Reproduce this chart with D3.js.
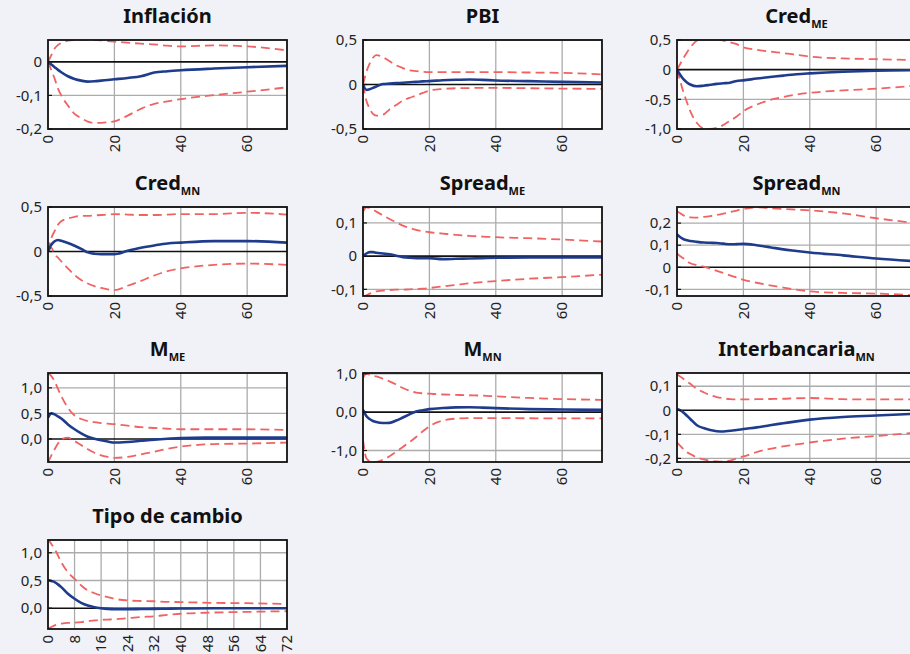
<!DOCTYPE html>
<html>
<head>
<meta charset="utf-8">
<script src="https://cdn.jsdelivr.net/npm/d3@7"></script>
<style>
  html, body { margin: 0; padding: 0; background: #f1f2f7; }
  svg { display: block; }
  text { font-family: "Noto Sans", "Open Sans", sans-serif; }
</style>
</head>
<body>
<svg id="chart" width="910" height="654"></svg>
<script>
// ---- data ----
const horizons = [0,1,2,3,4,6,8,10,12,14,16,18,20,24,28,32,36,40,50,60,72];

const inflacionIRF = [0,-0.008,-0.016,-0.024,-0.031,-0.043,-0.051,-0.056,-0.059,-0.058,-0.056,-0.054,-0.052,-0.048,-0.043,-0.032,-0.028,-0.025,-0.020,-0.016,-0.012];
const inflacionHi  = [0,0.02,0.04,0.05,0.056,0.063,0.065,0.066,0.066,0.065,0.064,0.062,0.06,0.057,0.054,0.052,0.048,0.046,0.049,0.046,0.034];
const inflacionLo  = [0,-0.025,-0.05,-0.08,-0.1,-0.13,-0.155,-0.168,-0.178,-0.182,-0.182,-0.18,-0.177,-0.16,-0.14,-0.125,-0.118,-0.111,-0.099,-0.089,-0.076];

const pbiIRF = [0,-0.06,-0.053,-0.038,-0.023,0.005,0.01,0.015,0.02,0.025,0.03,0.035,0.038,0.048,0.054,0.057,0.052,0.045,0.038,0.03,0.023];
const pbiHi  = [0,0.14,0.235,0.3,0.33,0.31,0.26,0.216,0.185,0.16,0.15,0.143,0.14,0.14,0.14,0.14,0.14,0.14,0.135,0.13,0.114];
const pbiLo  = [0,-0.18,-0.27,-0.33,-0.35,-0.34,-0.28,-0.23,-0.18,-0.15,-0.125,-0.095,-0.068,-0.05,-0.042,-0.04,-0.038,-0.038,-0.042,-0.046,-0.049];

const credMEIRF = [0,-0.09,-0.165,-0.215,-0.25,-0.28,-0.27,-0.255,-0.24,-0.23,-0.22,-0.19,-0.18,-0.15,-0.125,-0.1,-0.078,-0.063,-0.034,-0.017,-0.01];
const credMEHi  = [0,0.1,0.2,0.29,0.375,0.49,0.53,0.53,0.52,0.49,0.46,0.43,0.375,0.335,0.305,0.28,0.25,0.22,0.19,0.176,0.16];
const credMELo  = [0,-0.2,-0.39,-0.55,-0.7,-0.9,-0.99,-1.0,-0.98,-0.93,-0.86,-0.79,-0.7,-0.59,-0.51,-0.46,-0.42,-0.39,-0.35,-0.32,-0.27];

const credMNIRF = [0,0.075,0.115,0.13,0.12,0.095,0.065,0.03,-0.01,-0.025,-0.03,-0.03,-0.03,0.008,0.042,0.068,0.09,0.1,0.117,0.117,0.1];
const credMNHi  = [0,0.15,0.23,0.3,0.34,0.37,0.39,0.4,0.4,0.405,0.41,0.415,0.42,0.415,0.41,0.41,0.415,0.42,0.42,0.435,0.415];
const credMNLo  = [0,0.04,-0.03,-0.07,-0.11,-0.19,-0.265,-0.32,-0.36,-0.39,-0.41,-0.425,-0.435,-0.385,-0.33,-0.27,-0.22,-0.19,-0.15,-0.136,-0.15];

const spreadMEIRF = [0,0.008,0.012,0.012,0.01,0.008,0.006,0.001,-0.003,-0.005,-0.006,-0.006,-0.006,-0.009,-0.008,-0.007,-0.006,-0.005,-0.004,-0.004,-0.004];
const spreadMEHi  = [0.134,0.147,0.145,0.14,0.134,0.123,0.112,0.102,0.092,0.085,0.079,0.075,0.072,0.068,0.064,0.061,0.059,0.057,0.054,0.05,0.044];
const spreadMELo  = [-0.123,-0.118,-0.113,-0.109,-0.106,-0.104,-0.102,-0.101,-0.101,-0.1,-0.099,-0.098,-0.096,-0.091,-0.087,-0.082,-0.078,-0.075,-0.068,-0.063,-0.056];

const spreadMNIRF = [0.148,0.136,0.127,0.122,0.119,0.115,0.112,0.111,0.11,0.107,0.104,0.105,0.106,0.1,0.091,0.081,0.074,0.067,0.054,0.04,0.027];
const spreadMNHi  = [0.254,0.245,0.235,0.227,0.226,0.225,0.228,0.232,0.237,0.243,0.25,0.257,0.264,0.271,0.268,0.264,0.261,0.258,0.244,0.222,0.2];
const spreadMNLo  = [0.063,0.05,0.04,0.028,0.018,0.01,0.003,-0.006,-0.016,-0.026,-0.037,-0.047,-0.057,-0.07,-0.082,-0.092,-0.101,-0.109,-0.116,-0.119,-0.127];

const mMEIRF = [0.415,0.5,0.48,0.44,0.4,0.285,0.19,0.11,0.045,0.005,-0.026,-0.05,-0.07,-0.058,-0.035,-0.012,0.006,0.02,0.026,0.026,0.026];
const mMEHi  = [1.29,1.23,1.13,0.98,0.84,0.61,0.46,0.39,0.35,0.33,0.31,0.3,0.29,0.26,0.23,0.215,0.2,0.19,0.19,0.19,0.175];
const mMELo  = [-0.46,-0.32,-0.2,-0.09,-0.006,0.026,-0.04,-0.12,-0.2,-0.27,-0.32,-0.35,-0.37,-0.35,-0.3,-0.25,-0.19,-0.15,-0.1,-0.09,-0.07];

const mMNIRF = [0.06,-0.1,-0.18,-0.23,-0.26,-0.285,-0.28,-0.22,-0.14,-0.06,0.017,0.05,0.078,0.107,0.125,0.128,0.118,0.104,0.078,0.07,0.06];
const mMNHi  = [0.89,1.0,0.98,0.95,0.93,0.87,0.8,0.72,0.63,0.56,0.51,0.49,0.48,0.46,0.45,0.44,0.43,0.41,0.37,0.34,0.32];
const mMNLo  = [-0.72,-1.2,-1.28,-1.31,-1.3,-1.24,-1.15,-1.03,-0.91,-0.78,-0.65,-0.5,-0.37,-0.22,-0.17,-0.157,-0.157,-0.157,-0.16,-0.162,-0.165];

const interbIRF = [0.005,0.0,-0.01,-0.023,-0.036,-0.062,-0.074,-0.082,-0.087,-0.088,-0.085,-0.082,-0.078,-0.071,-0.062,-0.054,-0.046,-0.039,-0.028,-0.022,-0.014];
const interbHi  = [0.15,0.14,0.13,0.12,0.11,0.089,0.075,0.063,0.055,0.05,0.046,0.045,0.045,0.046,0.047,0.048,0.05,0.051,0.046,0.045,0.045];
const interbLo  = [-0.134,-0.148,-0.162,-0.174,-0.182,-0.196,-0.204,-0.209,-0.213,-0.214,-0.209,-0.2,-0.192,-0.174,-0.16,-0.15,-0.142,-0.134,-0.118,-0.107,-0.093];

const tcIRF = [0.51,0.49,0.47,0.43,0.38,0.26,0.17,0.096,0.048,0.018,0.0,-0.012,-0.018,-0.018,-0.015,-0.012,-0.009,-0.006,0,0,0];
const tcHi  = [1.25,1.16,1.07,0.95,0.83,0.65,0.53,0.41,0.32,0.27,0.23,0.2,0.17,0.14,0.13,0.125,0.115,0.11,0.096,0.09,0.078];
const tcLo  = [-0.37,-0.34,-0.31,-0.29,-0.28,-0.265,-0.26,-0.25,-0.235,-0.22,-0.21,-0.205,-0.2,-0.18,-0.16,-0.145,-0.12,-0.1,-0.078,-0.066,-0.054];

const titles    = ["Inflación","PBI","Cred","Cred","Spread","Spread","M","M","Interbancaria","Tipo de cambio"];
const subtitles = ["","","ME","MN","ME","MN","ME","MN","MN",""];

const yTicks = [
  [0,-0.1,-0.2],
  [0.5,0,-0.5],
  [0.5,0,-0.5,-1.0],
  [0.5,0,-0.5],
  [0.1,0,-0.1],
  [0.2,0.1,0,-0.1],
  [1.0,0.5,0.0],
  [1.0,0.0,-1.0],
  [0.1,0,-0.1,-0.2],
  [1.0,0.5,0.0]
];
const yTickLabels = [
  ["0","-0,1","-0,2"],
  ["0,5","0","-0,5"],
  ["0,5","0","-0,5","-1,0"],
  ["0,5","0","-0,5"],
  ["0,1","0","-0,1"],
  ["0,2","0,1","0","-0,1"],
  ["1,0","0,5","0,0"],
  ["1,0","0,0","-1,0"],
  ["0,1","0","-0,1","-0,2"],
  ["1,0","0,5","0,0"]
];
const xTicksStd  = [0,20,40,60];
const xTicksLast = [0,8,16,24,32,40,48,56,64,72];

const irfs  = [inflacionIRF,pbiIRF,credMEIRF,credMNIRF,spreadMEIRF,spreadMNIRF,mMEIRF,mMNIRF,interbIRF,tcIRF];
const highs = [inflacionHi,pbiHi,credMEHi,credMNHi,spreadMEHi,spreadMNHi,mMEHi,mMNHi,interbHi,tcHi];
const lows  = [inflacionLo,pbiLo,credMELo,credMNLo,spreadMELo,spreadMNLo,mMELo,mMNLo,interbLo,tcLo];

// ---- layout ----
const yDomains = [[-0.2,0.065],[-0.5,0.5],[-1.0,0.5],[-0.5,0.5],[-0.12,0.148],[-0.13,0.273],[-0.45,1.29],[-1.3,1.02],[-0.215,0.155],[-0.375,1.23]];
const colX = [48, 363, 677];
const rowY = [40, 207, 373, 540];
const W = 239, H = 89;

const svg = d3.select("#chart");
svg.append("rect").attr("width",910).attr("height",654).attr("fill","#f1f2f7");

const defs = svg.append("defs");

titles.forEach((title, i) => {
  const col = i % 3, row = Math.floor(i / 3);
  const x0 = colX[col], y0 = rowY[row];
  const g = svg.append("g").attr("transform", `translate(${x0},${y0})`);
  const xs = d3.scaleLinear().domain([0,72]).range([0,W]);
  const ys = d3.scaleLinear().domain(yDomains[i]).range([H,0]);
  const xt = i === 9 ? xTicksLast : xTicksStd;

  defs.append("clipPath").attr("id","clip"+i)
    .append("rect").attr("x",0).attr("y",0).attr("width",W).attr("height",H);

  g.append("rect").attr("width",W).attr("height",H).attr("fill","#ffffff");

  // grid
  g.append("g").selectAll("line").data(xt.filter(v => v > 0 && v < 72)).join("line")
    .attr("x1",d=>xs(d)).attr("x2",d=>xs(d)).attr("y1",0).attr("y2",H)
    .attr("stroke","#acacac").attr("stroke-width",1.3);
  g.append("g").selectAll("line").data(yTicks[i].filter(v => v !== 0)).join("line")
    .attr("x1",0).attr("x2",W).attr("y1",d=>ys(d)).attr("y2",d=>ys(d))
    .attr("stroke","#acacac").attr("stroke-width",1.3);
  // zero line
  g.append("line").attr("x1",0).attr("x2",W).attr("y1",ys(0)).attr("y2",ys(0))
    .attr("stroke","#111").attr("stroke-width",1.6);

  const line = d3.line().x((d,k)=>xs(horizons[k])).y(d=>ys(d)).curve(d3.curveMonotoneX);
  const plot = g.append("g").attr("clip-path",`url(#clip${i})`);
  [highs[i], lows[i]].forEach(s => {
    plot.append("path").attr("d", line(s)).attr("fill","none")
      .attr("stroke","#ef6363").attr("stroke-width",1.8).attr("stroke-dasharray","9,5");
  });
  plot.append("path").attr("d", line(irfs[i])).attr("fill","none")
    .attr("stroke","#1f3c8c").attr("stroke-width",2.6).attr("stroke-linejoin","round");

  // inward ticks
  g.append("g").selectAll("line").data(yTicks[i]).join("line")
    .attr("x1",0).attr("x2",4).attr("y1",d=>ys(d)).attr("y2",d=>ys(d))
    .attr("stroke","#111").attr("stroke-width",1.2);

  // frame
  g.append("rect").attr("width",W).attr("height",H).attr("fill","none")
    .attr("stroke","#111").attr("stroke-width",1.8);

  // y labels
  g.append("g").selectAll("text").data(yTicks[i]).join("text")
    .attr("x",-6).attr("y",d=>ys(d)).attr("dy","0.35em")
    .attr("text-anchor","end").attr("font-size",15).attr("fill","#222")
    .text((d,k)=>yTickLabels[i][k]);

  // x labels (rotated)
  g.append("g").selectAll("text").data(xt).join("text")
    .attr("transform", d => `translate(${xs(d)},${H+6}) rotate(-90)`)
    .attr("dy","0.35em").attr("text-anchor","end")
    .attr("font-size",15).attr("fill","#222")
    .text(d => d);

  // title
  const t = g.append("text").attr("x", W/2).attr("y", -17)
    .attr("text-anchor","middle").attr("font-size",20).attr("font-weight","bold").attr("fill","#111");
  t.append("tspan").text(title);
  if (subtitles[i]) {
    t.append("tspan").attr("font-size",11).attr("dy",5).text(subtitles[i]);
  }
});
</script>
</body>
</html>
